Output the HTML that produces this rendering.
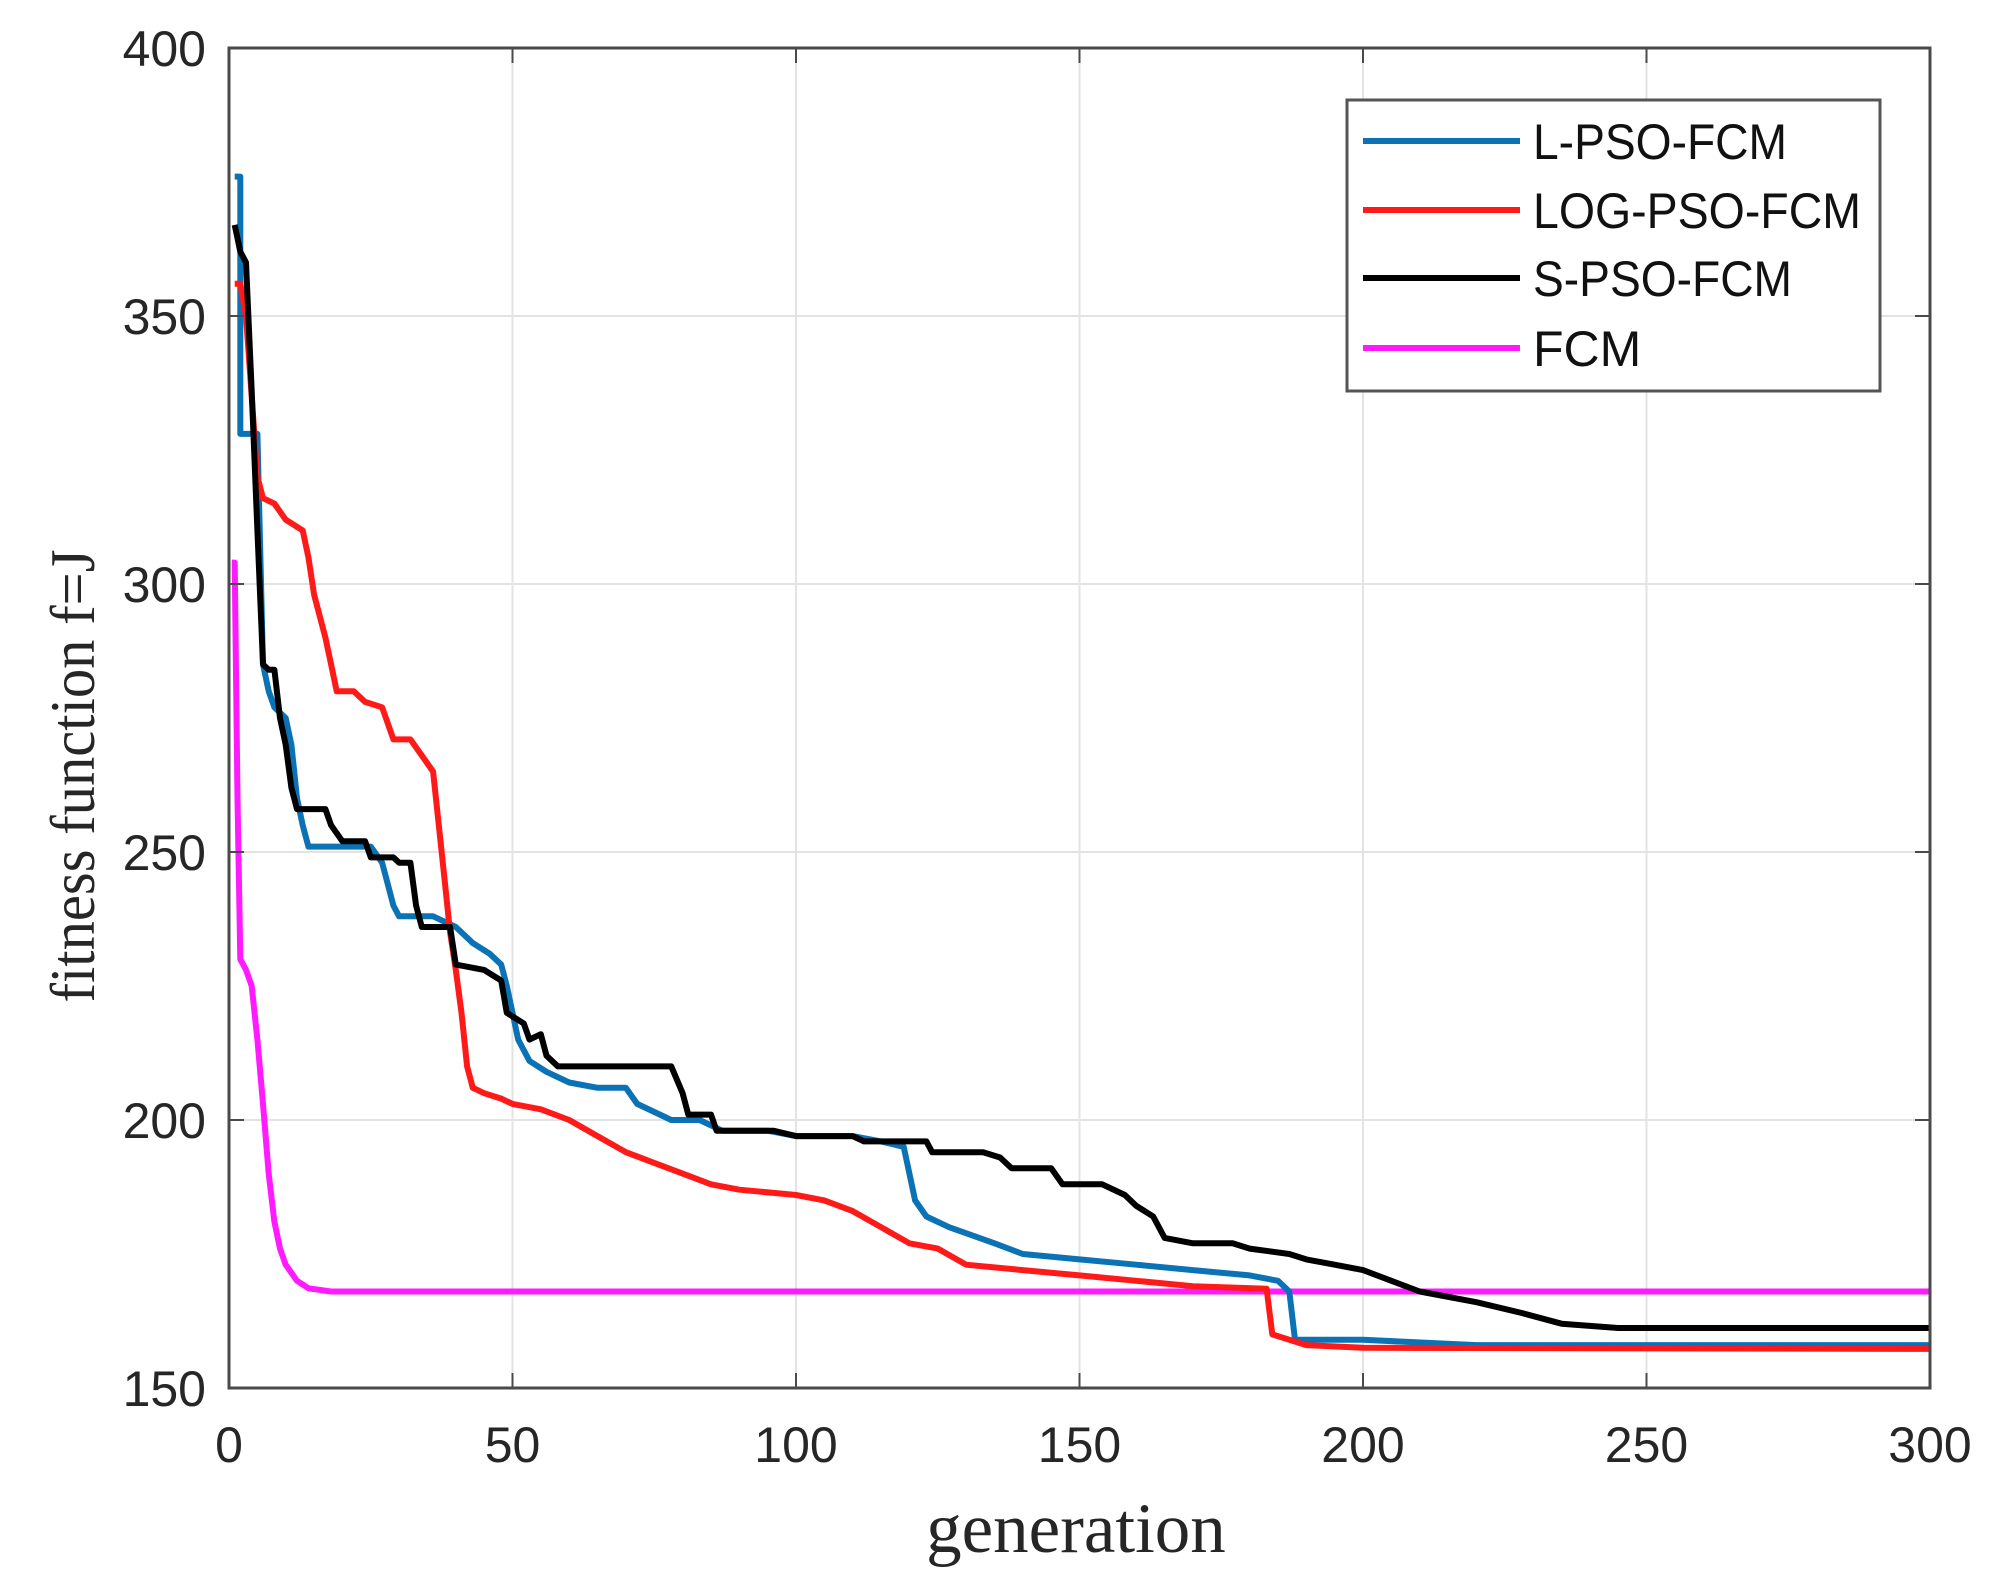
<!DOCTYPE html>
<html><head><meta charset="utf-8"><style>
html,body{margin:0;padding:0;background:#fff;}
svg{display:block;}
</style></head><body>
<svg id="c" width="1993" height="1593" xmlns="http://www.w3.org/2000/svg">
<rect width="1993" height="1593" fill="#fff"/>
<g id="grid" stroke="#e3e3e3" stroke-width="2"></g>
<g id="series" fill="none" stroke-width="6" stroke-linejoin="round"></g>
<rect x="229" y="48" width="1701" height="1340" fill="none" stroke="#4a4a4a" stroke-width="3"/>
<g id="ticks" stroke="#4a4a4a" stroke-width="2"></g>
<g id="labels" font-family="Liberation Sans, sans-serif" font-size="50" fill="#262626"></g>
<text x="0" y="0" transform="translate(94,776) rotate(-90)" text-anchor="middle" font-family="Liberation Serif, serif" font-size="64" textLength="453" lengthAdjust="spacingAndGlyphs" fill="#262626">fitness function f=J</text>
<text x="1076" y="1552" text-anchor="middle" font-family="Liberation Serif, serif" font-size="71" fill="#262626">generation</text>
<g>
<rect x="1347" y="100" width="533" height="291" fill="#fff" stroke="#555" stroke-width="3"/>
<line x1="1363" y1="141" x2="1520" y2="141" stroke="#0b72b5" stroke-width="6"/>
<line x1="1363" y1="210" x2="1520" y2="210" stroke="#ff1a1a" stroke-width="6"/>
<line x1="1363" y1="278" x2="1520" y2="278" stroke="#000" stroke-width="6"/>
<line x1="1363" y1="348" x2="1520" y2="348" stroke="#ff1aff" stroke-width="6"/>
<g font-family="Liberation Sans, sans-serif" font-size="50" fill="#111">
<text x="1533" y="159" textLength="254" lengthAdjust="spacingAndGlyphs">L-PSO-FCM</text>
<text x="1533" y="228" textLength="328" lengthAdjust="spacingAndGlyphs">LOG-PSO-FCM</text>
<text x="1533" y="296" textLength="259" lengthAdjust="spacingAndGlyphs">S-PSO-FCM</text>
<text x="1533" y="366">FCM</text>
</g>
</g>
</svg>
<script>
var X0=229,X1=1930,Y0=48,Y1=1388;
function px(g){return X0+(g/300)*(X1-X0);}
function py(v){return Y1-(v-150)/250*(Y1-Y0);}
var ns="http://www.w3.org/2000/svg";
function el(p,t,a,txt){var e=document.createElementNS(ns,t);for(var k in a)e.setAttribute(k,a[k]);if(txt!==undefined)e.textContent=txt;p.appendChild(e);return e;}
var grid=document.getElementById('grid'),ticks=document.getElementById('ticks'),labels=document.getElementById('labels');
for(var g=0;g<=300;g+=50){var x=px(g);
 if(g>0&&g<300)el(grid,'line',{x1:x,y1:Y0,x2:x,y2:Y1});
 el(ticks,'line',{x1:x,y1:Y1,x2:x,y2:Y1-15});el(ticks,'line',{x1:x,y1:Y0,x2:x,y2:Y0+15});
 el(labels,'text',{x:x,y:1462,'text-anchor':'middle'},String(g));}
for(var v=150;v<=400;v+=50){var y=py(v);
 if(v>150&&v<400)el(grid,'line',{x1:X0,y1:y,x2:X1,y2:y});
 el(ticks,'line',{x1:X0,y1:y,x2:X0+15,y2:y});el(ticks,'line',{x1:X1,y1:y,x2:X1-15,y2:y});
 el(labels,'text',{x:206,y:y+18,'text-anchor':'end'},String(v));}
var S=document.getElementById('series');
function line(d,c){el(S,'path',{d:d.map(function(p,i){return (i?'L':'M')+px(p[0]).toFixed(1)+','+py(p[1]).toFixed(1);}).join(''),stroke:c});}
var fcm=[[0.5,304],[1,304],[1.5,260],[2,230],[3,228],[4,225],[5,215],[6,203],[7,190],[8,181],[9,176],[10,173],[12,170],[14,168.6],[18,168],[300,168]];
var blue=[[1,376],[2,376],[2,328],[5,328],[6,285],[7,280],[8,277],[10,275],[11,270],[12,260],[13,255],[14,251],[25,251],[27,248],[28,244],[29,240],[30,238],[36,238],[38,237],[40,236],[43,233],[46,231],[48,229],[49,225],[51,215],[53,211],[56,209],[60,207],[65,206],[70,206],[72,203],[78,200],[83,200],[87,198],[95,198],[100,197],[110,197],[115,196],[119,195],[121,185],[123,182],[127,180],[135,177],[140,175],[150,174],[160,173],[170,172],[180,171],[185,170],[187,168],[188,159],[200,159],[220,158],[300,158]];
var red=[[1,356],[2,356],[3,350],[4,335],[5,320],[6,316],[8,315],[10,312],[13,310],[14,305],[15,298],[17,290],[18,285],[19,280],[22,280],[24,278],[27,277],[28,274],[29,271],[32,271],[34,268],[36,265],[37,255],[38,245],[39,235],[40,228],[41,220],[42,210],[43,206],[45,205],[48,204],[50,203],[55,202],[60,200],[65,197],[70,194],[75,192],[80,190],[85,188],[90,187],[100,186],[105,185],[110,183],[115,180],[120,177],[125,176],[130,173],[140,172],[150,171],[160,170],[170,169],[183,168.5],[184,160],[190,158],[200,157.5],[300,157.3]];
var black=[[1,367],[2,362],[3,360],[4,336],[5,310],[6,285],[7,284],[8,284],[9,275],[10,270],[11,262],[12,258],[17,258],[18,255],[20,252],[24,252],[25,249],[29,249],[30,248],[32,248],[33,240],[34,236],[39,236],[40,229],[45,228],[48,226],[49,220],[52,218],[53,215],[55,216],[56,212],[58,210],[78,210],[80,205],[81,201],[85,201],[86,198],[96,198],[100,197],[110,197],[112,196],[123,196],[124,194],[133,194],[136,193],[138,191],[145,191],[147,188],[154,188],[158,186],[160,184],[163,182],[165,178],[170,177],[177,177],[180,176],[187,175],[190,174],[195,173],[200,172],[205,170],[210,168],[220,166],[228,164],[235,162],[245,161.2],[300,161.2]];
line(fcm,'#ff1aff');line(blue,'#0b72b5');line(red,'#ff1a1a');line(black,'#000');
</script>
</body></html>
